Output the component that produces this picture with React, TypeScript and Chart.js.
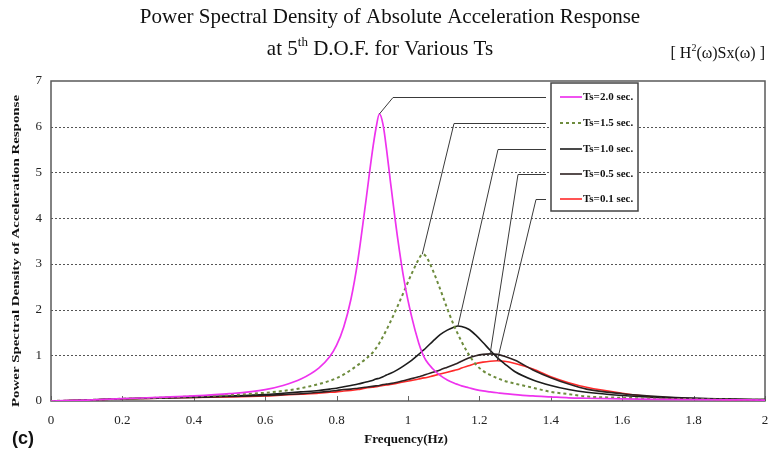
import React, { useEffect, useRef } from "react";
import { Chart, registerables } from "chart.js";
Chart.register(...registerables);

// ---------- data ----------
const freq = [0, 0.1, 0.2, 0.3, 0.4, 0.5, 0.6, 0.65, 0.7, 0.75, 0.78, 0.8, 0.82, 0.84, 0.86, 0.88, 0.9, 0.91, 0.92, 0.93, 0.94, 0.95, 0.97, 0.99, 1.01, 1.03, 1.04, 1.05, 1.07, 1.09, 1.11, 1.13, 1.14, 1.15, 1.17, 1.19, 1.21, 1.23, 1.25, 1.27, 1.3, 1.35, 1.4, 1.45, 1.5, 1.6, 1.7, 1.8, 1.9, 2.0];

const ts20 = [0, 0.02, 0.05, 0.08, 0.11, 0.16, 0.25, 0.34, 0.48, 0.72, 0.96, 1.22, 1.62, 2.22, 3.1, 4.25, 5.45, 5.95, 6.28, 6.05, 5.5, 4.85, 3.62, 2.6, 1.85, 1.27, 1.05, 0.89, 0.7, 0.56, 0.46, 0.39, 0.36, 0.33, 0.29, 0.25, 0.22, 0.2, 0.18, 0.16, 0.14, 0.11, 0.09, 0.07, 0.06, 0.045, 0.035, 0.03, 0.025, 0.02];
const ts15 = [0, 0.02, 0.05, 0.07, 0.1, 0.13, 0.18, 0.22, 0.28, 0.37, 0.44, 0.5, 0.58, 0.68, 0.79, 0.91, 1.05, 1.15, 1.27, 1.41, 1.56, 1.72, 2.06, 2.42, 2.78, 3.1, 3.21, 3.17, 2.85, 2.45, 2.02, 1.63, 1.46, 1.3, 1.02, 0.8, 0.66, 0.57, 0.5, 0.44, 0.38, 0.29, 0.2, 0.15, 0.1, 0.07, 0.05, 0.04, 0.03, 0.025];
const ts10 = [0, 0.02, 0.05, 0.07, 0.09, 0.11, 0.14, 0.17, 0.2, 0.23, 0.26, 0.28, 0.31, 0.34, 0.37, 0.41, 0.45, 0.48, 0.5, 0.53, 0.57, 0.6, 0.68, 0.78, 0.89, 1.02, 1.09, 1.16, 1.31, 1.45, 1.55, 1.62, 1.64, 1.63, 1.57, 1.44, 1.28, 1.11, 0.95, 0.82, 0.64, 0.46, 0.34, 0.25, 0.19, 0.12, 0.08, 0.06, 0.04, 0.03];
const ts05 = [0, 0.02, 0.05, 0.06, 0.08, 0.1, 0.12, 0.14, 0.16, 0.19, 0.21, 0.23, 0.25, 0.26, 0.28, 0.3, 0.32, 0.33, 0.34, 0.36, 0.37, 0.38, 0.41, 0.45, 0.49, 0.53, 0.55, 0.58, 0.63, 0.68, 0.74, 0.8, 0.83, 0.87, 0.94, 0.99, 1.02, 1.03, 1.02, 0.98, 0.89, 0.68, 0.51, 0.37, 0.26, 0.16, 0.1, 0.06, 0.04, 0.03];
const ts01 = [0, 0.02, 0.05, 0.06, 0.08, 0.09, 0.11, 0.13, 0.15, 0.17, 0.19, 0.2, 0.22, 0.23, 0.25, 0.28, 0.3, 0.31, 0.33, 0.34, 0.35, 0.36, 0.39, 0.42, 0.45, 0.48, 0.5, 0.51, 0.55, 0.59, 0.63, 0.67, 0.69, 0.72, 0.77, 0.82, 0.85, 0.87, 0.88, 0.87, 0.82, 0.7, 0.53, 0.4, 0.3, 0.17, 0.08, 0.05, 0.03, 0.02];

const seriesLabels = ["Ts=2.0 sec.", "Ts=1.5 sec.", "Ts=1.0 sec.", "Ts=0.5 sec.", "Ts=0.1 sec."];
const seriesValues = [ts20, ts15, ts10, ts05, ts01];

const xTicks = [0, 0.2, 0.4, 0.6, 0.8, 1.0, 1.2, 1.4, 1.6, 1.8, 2.0];
const yTicks = [0, 1, 2, 3, 4, 5, 6, 7];

const titleLine1 = "Power Spectral Density of Absolute Acceleration Response";
const titleLine2 = ["at 5", "th", " D.O.F. for Various Ts"];
const noteText = ["[ H", "2", "(\u03c9)Sx(\u03c9) ]"];
const xTitle = "Frequency(Hz)";
const yTitle = "Power Spectral Density of Acceleration Response";
const panelLabel = "(c)";

// ---------- styles ----------
const SERIF = '"Liberation Serif", "Times New Roman", Times, serif';
const SANS = '"Liberation Sans", Arial, sans-serif';
const colors = ["#ee33ee", "#6e8c3e", "#1c1c1c", "#2e2222", "#ff2a2a"];
const widths = [1.7, 2, 1.6, 1.6, 1.6];
const dashes: number[][] = [[], [3, 3], [], [], []];

// layout constants for annotations (px relative to chart area)
const legendBox = { dx: 500, dy: 2, w: 87, h: 128 };
const legendRowDy = [16, 42, 68, 93, 118];
const leaderElbowDx = [342, 403, 447, 467, 485];

function drawSupText(ctx: CanvasRenderingContext2D, parts: string[], x: number, y: number, size: number, align: "center" | "right") {
  const supSize = Math.round(size * 0.62);
  const widthsP = parts.map((p, i) => {
    ctx.font = `${i % 2 === 1 ? supSize : size}px ${SERIF}`;
    return ctx.measureText(p).width;
  });
  const total = widthsP.reduce((a, b) => a + b, 0);
  let cx = align === "center" ? x - total / 2 : x - total;
  ctx.textAlign = "left";
  ctx.textBaseline = "alphabetic";
  parts.forEach((p, i) => {
    const sup = i % 2 === 1;
    ctx.font = `${sup ? supSize : size}px ${SERIF}`;
    ctx.fillText(p, cx, sup ? y - size * 0.42 : y);
    cx += widthsP[i];
  });
}

const decorPlugin = {
  id: "decor",
  beforeDatasetsDraw(chart: any) {
    const { ctx, chartArea: a, scales } = chart;
    const x = scales.x, y = scales.y;
    ctx.save();
    ctx.strokeStyle = "#555";
    ctx.lineWidth = 1;
    ctx.setLineDash([2, 2]);
    for (const v of yTicks) {
      if (v <= 0 || v >= 7) continue;
      const py = Math.round(y.getPixelForValue(v)) + 0.5;
      ctx.beginPath();
      ctx.moveTo(a.left, py);
      ctx.lineTo(a.right, py);
      ctx.stroke();
    }
    ctx.setLineDash([]);
    ctx.strokeStyle = "#666";
    for (const v of xTicks) {
      const px = Math.round(x.getPixelForValue(v)) + 0.5;
      ctx.beginPath();
      ctx.moveTo(px, a.bottom);
      ctx.lineTo(px, a.bottom - 5);
      ctx.stroke();
    }
    ctx.lineWidth = 1.5;
    ctx.strokeStyle = "#5a5a5a";
    ctx.strokeRect(a.left, a.top, a.right - a.left, a.bottom - a.top);
    ctx.restore();
  },
  afterDatasetsDraw(chart: any) {
    const { ctx, chartArea: a, scales } = chart;
    const x = scales.x, y = scales.y;
    ctx.save();
    const bx = a.left + legendBox.dx, by = a.top + legendBox.dy;
    // leader lines to each series peak
    ctx.strokeStyle = "#3a3a3a";
    ctx.lineWidth = 1;
    chart.data.datasets.forEach((ds: any, i: number) => {
      let best = ds.data[0];
      for (const p of ds.data) if (p.y > best.y) best = p;
      const ry = by + legendRowDy[i] - legendBox.dy + 0.5;
      ctx.beginPath();
      ctx.moveTo(bx - 5, ry);
      ctx.lineTo(a.left + leaderElbowDx[i], ry);
      ctx.lineTo(x.getPixelForValue(best.x), y.getPixelForValue(best.y));
      ctx.stroke();
    });
    // legend box
    ctx.fillStyle = "#fff";
    ctx.fillRect(bx, by, legendBox.w, legendBox.h);
    ctx.strokeStyle = "#444";
    ctx.lineWidth = 1.5;
    ctx.strokeRect(bx, by, legendBox.w, legendBox.h);
    chart.data.datasets.forEach((ds: any, i: number) => {
      const ry = by + legendRowDy[i] - legendBox.dy;
      ctx.strokeStyle = ds.borderColor;
      ctx.lineWidth = ds.borderWidth;
      ctx.setLineDash(ds.borderDash || []);
      ctx.beginPath();
      ctx.moveTo(bx + 9, ry);
      ctx.lineTo(bx + 31, ry);
      ctx.stroke();
      ctx.setLineDash([]);
      ctx.fillStyle = "#111";
      ctx.font = `bold 11px ${SERIF}`;
      ctx.textAlign = "left";
      ctx.textBaseline = "middle";
      ctx.fillText(ds.label, bx + 32, ry + 0.5);
    });
    ctx.restore();
  },
  afterDraw(chart: any) {
    const { ctx } = chart;
    ctx.save();
    ctx.fillStyle = "#111";
    ctx.font = `21px ${SERIF}`;
    ctx.textAlign = "center";
    ctx.textBaseline = "alphabetic";
    ctx.fillText(titleLine1, 390, 23);
    drawSupText(ctx, titleLine2, 380, 55, 21, "center");
    drawSupText(ctx, noteText, 765, 58, 16, "right");
    // x title
    ctx.font = `bold 13px ${SERIF}`;
    ctx.textAlign = "center";
    ctx.textBaseline = "middle";
    ctx.fillText(xTitle, 406, 440);
    // y title (stretched along its length)
    ctx.save();
    ctx.translate(16, 251);
    ctx.rotate(-Math.PI / 2);
    ctx.font = `bold 11px ${SERIF}`;
    const w = ctx.measureText(yTitle).width;
    ctx.scale(312 / w, 1);
    ctx.textAlign = "center";
    ctx.textBaseline = "middle";
    ctx.fillText(yTitle, 0, 0);
    ctx.restore();
    // panel label
    ctx.font = `bold 18px ${SANS}`;
    ctx.textAlign = "left";
    ctx.textBaseline = "middle";
    ctx.fillText(panelLabel, 12, 439);
    ctx.restore();
  },
};

export default function App() {
  const ref = useRef<HTMLCanvasElement | null>(null);
  useEffect(() => {
    if (!ref.current) return;
    const datasets = seriesValues.map((vals, i) => ({
      label: seriesLabels[i],
      data: freq.map((f, j) => ({ x: f, y: vals[j] })),
      borderColor: colors[i],
      backgroundColor: colors[i],
      borderWidth: widths[i],
      borderDash: dashes[i],
      pointRadius: 0,
      fill: false,
      cubicInterpolationMode: "monotone" as const,
    }));
    const chart = new Chart(ref.current, {
      type: "line",
      data: { datasets },
      options: {
        responsive: true,
        maintainAspectRatio: false,
        animation: false,
        layout: { padding: { top: 81, right: 3, left: 0, bottom: 0 } },
        plugins: {
          legend: { display: false },
          tooltip: { enabled: false },
          title: { display: false },
        },
        scales: {
          x: {
            type: "linear",
            min: 0,
            max: 2,
            afterBuildTicks: (s: any) => {
              s.ticks = xTicks.map((v) => ({ value: v }));
            },
            afterFit: (s: any) => {
              s.height = 49;
              s.paddingLeft = 0;
              s.paddingRight = 0;
            },
            grid: { display: false, drawTicks: false },
            border: { display: false },
            ticks: {
              autoSkip: false,
              maxRotation: 0,
              padding: 12,
              color: "#222",
              font: { family: SERIF, size: 13 },
              callback: (v: any) => String(Number(Number(v).toFixed(1))),
            },
          },
          y: {
            type: "linear",
            min: 0,
            max: 7,
            afterBuildTicks: (s: any) => {
              s.ticks = yTicks.map((v) => ({ value: v }));
            },
            afterFit: (s: any) => {
              s.width = 51;
              s.paddingTop = 0;
              s.paddingBottom = 0;
            },
            grid: { display: false, drawTicks: false },
            border: { display: false },
            ticks: {
              padding: 9,
              color: "#222",
              font: { family: SERIF, size: 13 },
            },
          },
        },
      },
      plugins: [decorPlugin],
    });
    return () => chart.destroy();
  }, []);
  return (
    <div style={{ position: "absolute", left: 0, top: 0, width: 768, height: 450, background: "#fff" }}>
      <canvas ref={ref} />
    </div>
  );
}
